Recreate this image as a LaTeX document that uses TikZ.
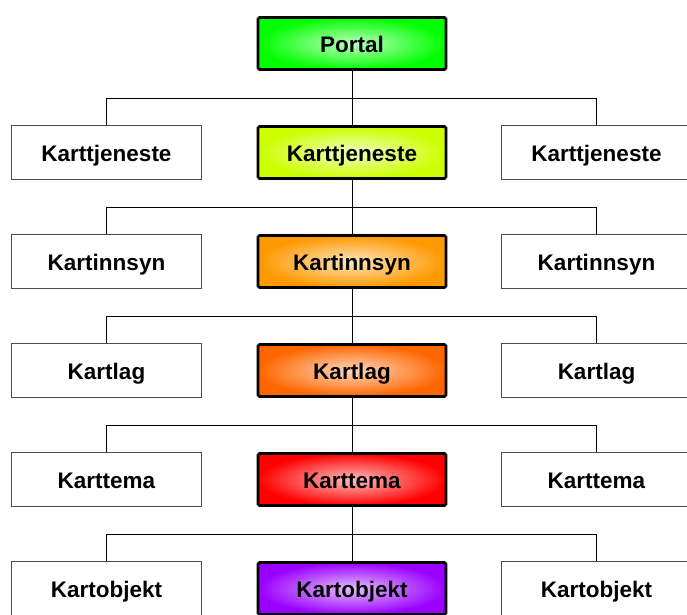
\documentclass[tikz,border=0pt]{standalone}
\usepackage{fontspec}
\setmainfont{Liberation Sans}
\definecolor{portalgreen}{RGB}{0,255,0}
\definecolor{tjenestelime}{RGB}{204,255,0}
\definecolor{innsynorange}{RGB}{255,153,0}
\definecolor{lagorange}{RGB}{255,102,0}
\definecolor{temared}{RGB}{255,0,0}
\definecolor{objektpurple}{RGB}{153,0,255}
\tikzset{
  levelbox/.style={draw=black,line width=2.6pt,rounded corners=1.5pt,
    minimum width=188pt,minimum height=52pt,inner sep=0pt,
    shading=radial,inner color=#1!25!white,outer color=#1},
  sidebox/.style={draw=black!70,line width=.9pt,fill=white,
    minimum width=190pt,minimum height=54pt,inner sep=0pt},
  link/.style={draw=black,line width=.9pt}
}
\begin{document}
\begin{tikzpicture}[x=1pt,y=1pt,
    font=\fontsize{22.5}{27}\selectfont\bfseries,
    every node/.append style={text height=22pt,text depth=5pt}]
  \useasboundingbox (0,0) rectangle (687,-614);
  % top of the chain
  \node[levelbox=portalgreen] (m0) at (352,-43.5) {Portal};
  % one row per level: side boxes left and right, coloured box in the middle
  \foreach \i/\lbl/\col in {1/Karttjeneste/tjenestelime,2/Kartinnsyn/innsynorange,
      3/Kartlag/lagorange,4/Karttema/temared,5/Kartobjekt/objektpurple} {
    \pgfmathtruncatemacro\prev{\i-1}
    \pgfmathsetmacro\rowy{-43.5-109*\i}
    \node[sidebox] (l\i) at (106.5,\rowy) {\lbl};
    \node[sidebox] (r\i) at (596.5,\rowy) {\lbl};
    \node[levelbox=\col] (m\i) at (352,\rowy) {\lbl};
    \draw[link] (m\prev.south) -- (m\i.north);
    \draw[link] (l\i.north) -- ++(0,27) -| (r\i.north);
  }
\end{tikzpicture}
\end{document}
